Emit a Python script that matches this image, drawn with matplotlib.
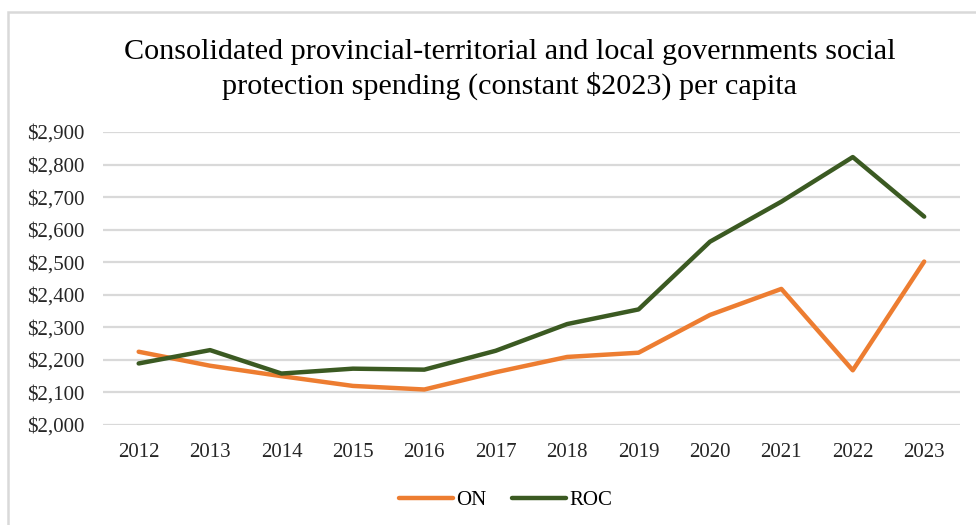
import matplotlib
matplotlib.use("Agg")
import matplotlib.pyplot as plt
from matplotlib.patches import Rectangle
from matplotlib.ticker import FuncFormatter

years = ["2012", "2013", "2014", "2015", "2016", "2017",
         "2018", "2019", "2020", "2021", "2022", "2023"]
on = [2225, 2182, 2150, 2120, 2109, 2162, 2209, 2222, 2338, 2418, 2168, 2502]
roc = [2189, 2230, 2158, 2173, 2170, 2228, 2310, 2355, 2563, 2686, 2823, 2640]

plt.rcParams["font.family"] = ["Liberation Serif", "DejaVu Serif"]

fig = plt.figure(figsize=(9.76, 5.25), dpi=100)
ax = fig.add_axes([0.1055, 0.1905, 0.878, 0.5581])

x = range(len(years))
ax.plot(x, on, color="#ED7D31", lw=3.2, label="ON", solid_capstyle="round")
ax.plot(x, roc, color="#3B5A22", lw=3.2, label="ROC", solid_capstyle="round")

ax.set_xlim(-0.5, len(years) - 0.5)
ax.set_ylim(2000, 2900)
ax.set_yticks(range(2000, 2901, 100))
ax.yaxis.set_major_formatter(FuncFormatter(lambda v, p: "${:,.0f}".format(v)))
ax.set_xticks(list(x))
ax.set_xticklabels(years)
ax.tick_params(length=0, labelsize=15, colors="#262626")
ax.tick_params(axis="x", pad=13)
ax.tick_params(axis="y", pad=13)
ax.grid(axis="y", color="#D9D9D9", lw=1.6)
ax.set_axisbelow(True)
for s in ax.spines.values():
    s.set_visible(False)

fig.text(0.522, 1 - 59 / 525, "Consolidated provincial-territorial and local governments social",
         ha="center", va="baseline", fontsize=21.7, color="#000000")
fig.text(0.522, 1 - 94 / 525, "protection spending (constant $2023) per capita",
         ha="center", va="baseline", fontsize=21.7, color="#000000")

fig.legend(loc="center", bbox_to_anchor=(0.518, 0.047), ncol=2, frameon=False,
           fontsize=15, handlelength=2.6, handletextpad=0.15, columnspacing=1.2)

# light frame around the chart
fig.patches.append(Rectangle((8 / 976, -0.1), 1.2, 1.1 - 12 / 525, transform=fig.transFigure,
                             fill=False, edgecolor="#D9D9D9", lw=1.8))

fig.savefig("out.png", dpi=100)
